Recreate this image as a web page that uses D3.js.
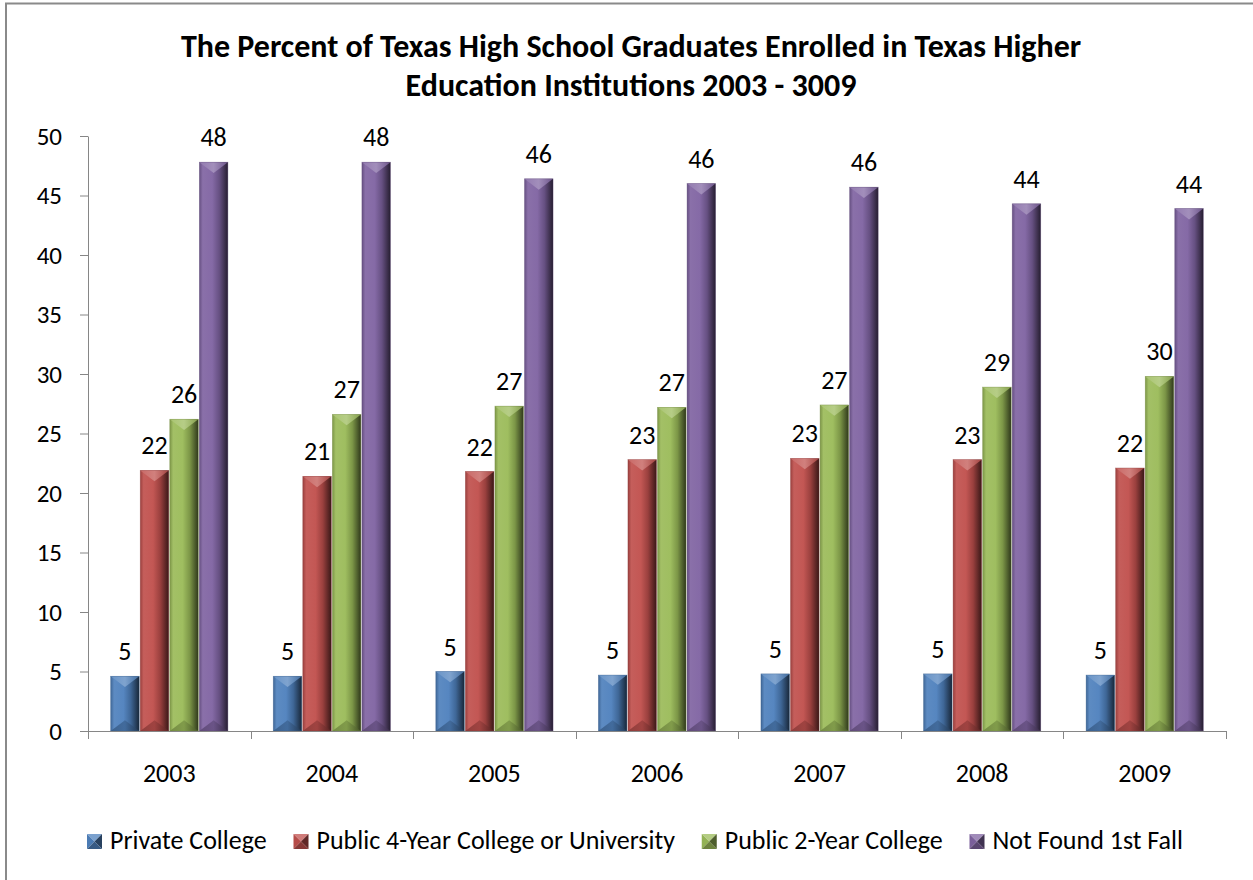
<!DOCTYPE html>
<html><head><meta charset="utf-8">
<script src="https://cdn.jsdelivr.net/npm/d3@7/dist/d3.min.js"></script>
<style>
html,body{margin:0;padding:0;background:#fff;}
svg{display:block;font-family:Carlito,Lato,"Liberation Sans",sans-serif;}
</style></head>
<body><svg id="c" width="1253" height="880"></svg>
<script>
const years = ["2003","2004","2005","2006","2007","2008","2009"];
const seriesNames = ["Private College","Public 4-Year College or University","Public 2-Year College","Not Found 1st Fall"];
const privateCollege = [4.6, 4.6, 5.0, 4.7, 4.8, 4.8, 4.7];
const public4Year    = [21.9, 21.4, 21.8, 22.8, 22.9, 22.8, 22.1];
const public2Year    = [26.2, 26.6, 27.3, 27.2, 27.4, 28.9, 29.8];
const notFound       = [47.8, 47.8, 46.4, 46.0, 45.7, 44.3, 43.9];
const yTicks = [0,5,10,15,20,25,30,35,40,45,50];
const titleLines = ["The Percent of Texas High School Graduates Enrolled in Texas Higher","Education Institutions 2003 - 3009"];
const colors = ["#4F81BD","#C0504D","#9BBB59","#8064A2"];

const seriesValues = [privateCollege, public4Year, public2Year, notFound];
const svg = d3.select("#c");
const FONT = "Carlito,Lato,sans-serif";

const plot = {left:88, right:1226, top:136, bottom:731};
const x0 = d3.scaleBand().domain(years).range([plot.left, plot.right]).padding(0);
const x1 = d3.scaleBand().domain(d3.range(4)).range([0, x0.bandwidth()]).paddingInner(0).paddingOuter(0.75);
const y = d3.scaleLinear().domain([0,50]).range([plot.bottom, plot.top]);

// border
svg.append("rect").attr("x",6).attr("y",3.5).attr("width",1270).attr("height",900)
  .attr("fill","none").attr("stroke","#8a8a8a").attr("stroke-width",2);

// gradients
const defs = svg.append("defs");
function shade(c, k){ const r=d3.rgb(c);
  if(k<1) return d3.rgb(r.r*k, r.g*k, r.b*k).formatHex();
  return d3.interpolateRgb(c,"#ffffff")(k-1); }
colors.forEach((c,i)=>{
  const g = defs.append("linearGradient").attr("id","g"+i).attr("x1","0").attr("x2","1").attr("y1","0").attr("y2","0");
  [[0,shade(c,0.8)],[0.12,shade(c,1.08)],[0.45,shade(c,1.04)],[0.7,shade(c,0.8)],[0.88,shade(c,0.5)],[1,shade(c,0.3)]]
    .forEach(s=>g.append("stop").attr("offset",s[0]).attr("stop-color",s[1]));
  const t = defs.append("linearGradient").attr("id","t"+i).attr("x1","0").attr("x2","1");
  [[0,shade(c,1.15)],[0.5,shade(c,1.3)],[1,shade(c,0.9)]].forEach(s=>t.append("stop").attr("offset",s[0]).attr("stop-color",s[1]));
  const b = defs.append("linearGradient").attr("id","b"+i).attr("x1","0").attr("x2","1");
  [[0,shade(c,0.7)],[0.5,shade(c,0.8)],[1,shade(c,0.45)]].forEach(s=>b.append("stop").attr("offset",s[0]).attr("stop-color",s[1]));
});

// y axis
const axisColor = "#868686";
const yAxis = d3.axisLeft(y).tickValues(yTicks).tickSize(8).tickSizeOuter(0).tickPadding(18);
const gy = svg.append("g").attr("transform",`translate(${plot.left},0)`).call(yAxis);
gy.attr("font-size",null).attr("font-family",null);
gy.select(".domain").attr("stroke",axisColor);
gy.selectAll(".tick line").attr("stroke",axisColor);
gy.selectAll(".tick text").attr("font-size",25).attr("fill","#000").attr("font-family",FONT);

// bars
const barG = svg.append("g");
const labelG = svg.append("g").attr("font-family",FONT).attr("font-size",26);
years.forEach((yr,ci)=>{
  seriesValues.forEach((vals,si)=>{
    const v = vals[ci];
    const bx = x0(yr) + x1(si) + 0.5;
    const bw = x1.bandwidth() - 1;
    const top = y(v), bot = y(0);
    const d = Math.min(bw*0.38, (bot-top)/2);
    const g = barG.append("g");
    g.append("rect").attr("x",bx).attr("y",top).attr("width",bw).attr("height",bot-top).attr("fill",`url(#g${si})`);
    g.append("path").attr("d",`M${bx},${top}L${bx+bw},${top}L${bx+bw/2},${top+d}Z`).attr("fill",`url(#t${si})`).attr("opacity",0.9);
    g.append("path").attr("d",`M${bx},${bot}L${bx+bw},${bot}L${bx+bw/2},${bot-d}Z`).attr("fill",`url(#b${si})`).attr("opacity",0.85);
    g.append("rect").attr("x",bx).attr("y",top).attr("width",bw).attr("height",bot-top).attr("fill","none")
      .attr("stroke",shade(colors[si],0.75)).attr("stroke-width",0.6).attr("stroke-opacity",0.6);
    labelG.append("text").attr("x",bx+bw/2).attr("y",top-16).attr("text-anchor","middle")
      .attr("fill","#000").text(d3.format(".0f")(v));
  });
});

// x axis
const xAxis = d3.axisBottom(x0).tickSize(0).tickPadding(0);
const gx = svg.append("g").attr("transform",`translate(0,${plot.bottom})`).call(xAxis);
gx.attr("font-size",null).attr("font-family",null);
gx.select(".domain").remove();
gx.selectAll(".tick text").attr("font-size",26).attr("fill","#000").attr("font-family",FONT).attr("dy",null).attr("y",51);
svg.append("line").attr("x1",plot.left).attr("x2",plot.right).attr("y1",plot.bottom+0.5).attr("y2",plot.bottom+0.5).attr("stroke",axisColor);
const boundaries = years.map(yr=>x0(yr)).concat([plot.right]);
svg.selectAll(".xt").data(boundaries).enter().append("line")
  .attr("x1",d=>Math.round(d)+0.5).attr("x2",d=>Math.round(d)+0.5).attr("y1",plot.bottom).attr("y2",plot.bottom+8).attr("stroke",axisColor);

// title
svg.append("text").attr("text-anchor","middle").attr("font-weight","bold").attr("font-size",32).attr("fill","#000")
  .selectAll("tspan").data(titleLines).enter().append("tspan").attr("x",631).attr("y",(d,i)=>57+i*39).text(d=>d);

// legend
const lg = svg.append("g");
const ms = 15, mGap = 8, legStart = 87, legEnd = 1183, legBase = 849;
const items = seriesNames.map((n,i)=>{
  const g = lg.append("g");
  const t = g.append("text").attr("font-size",26).attr("fill","#000").attr("font-family",FONT).text(n);
  return {g, t, w: ms + mGap + t.node().getComputedTextLength()};
});
const itemGap = (legEnd - legStart - d3.sum(items, d=>d.w)) / (items.length-1);
let cur = legStart;
items.forEach((it,i)=>{
  const mx = cur, my = 834, s = ms, c = colors[i];
  const cx = mx+s/2, cy = my+s/2;
  it.g.append("path").attr("d",`M${mx},${my}L${mx+s},${my}L${cx},${cy}Z`).attr("fill",shade(c,1.25));
  it.g.append("path").attr("d",`M${mx},${my}L${cx},${cy}L${mx},${my+s}Z`).attr("fill",shade(c,0.95));
  it.g.append("path").attr("d",`M${mx+s},${my}L${cx},${cy}L${mx+s},${my+s}Z`).attr("fill",shade(c,0.5));
  it.g.append("path").attr("d",`M${mx},${my+s}L${cx},${cy}L${mx+s},${my+s}Z`).attr("fill",shade(c,0.7));
  it.t.attr("x",mx+s+mGap).attr("y",legBase).raise();
  cur += it.w + itemGap;
});
</script></body></html>
